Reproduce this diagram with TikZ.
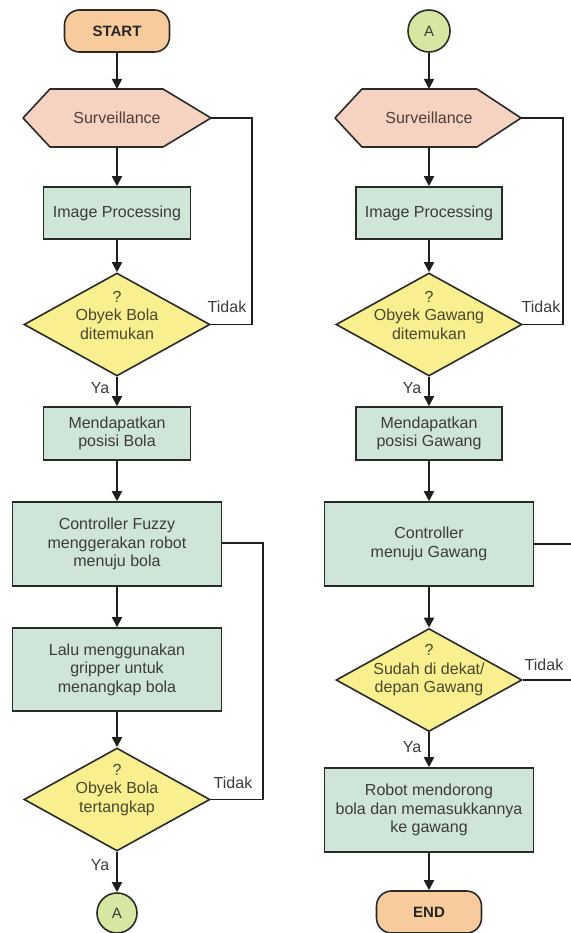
\documentclass[tikz,border=0pt]{standalone}
\usepackage{fontspec}
\setmainfont{Liberation Sans}
\usetikzlibrary{arrows.meta,shapes.geometric}
\definecolor{termfill}{HTML}{F7CB9C}
\definecolor{hexfill}{HTML}{F6D3C1}
\definecolor{boxfill}{HTML}{CFE5D8}
\definecolor{diafill}{HTML}{F8F08E}
\definecolor{circfill}{HTML}{D6E7A2}
\definecolor{bordercol}{HTML}{2A2A2A}
\definecolor{txt}{HTML}{3C3C3C}
\definecolor{hextxt}{HTML}{4E3C36}
\definecolor{diatxt}{HTML}{4A4630}
\begin{document}
\begin{tikzpicture}[x=1pt,y=-1pt,
  base/.style={draw=bordercol, line width=1.6pt, align=center, inner sep=0pt,
    font=\fontsize{16}{18.5}\selectfont, text=txt},
  terminal/.style={base, fill=termfill, rounded corners=15pt, minimum width=105pt, minimum height=42pt,
    font=\fontsize{15}{18}\selectfont\bfseries, text=black!85},
  procbox/.style={base, fill=boxfill, rectangle},
  dia/.style={draw=bordercol, line width=1.6pt, fill=diafill, diamond, inner sep=0pt,
    minimum width=186pt, minimum height=103pt},
  diatext/.style={align=center, inner sep=0pt, font=\fontsize{16}{18.5}\selectfont, text=diatxt},
  hexshape/.style={draw=bordercol, line width=1.6pt, fill=hexfill, line join=round},
  hextext/.style={inner sep=0pt, font=\fontsize{16}{18.5}\selectfont, text=hextxt},
  conn/.style={draw=black!88, line width=1.8pt, -{Triangle[length=10pt,width=10pt]}},
  loopline/.style={draw=black!88, line width=1.5pt},
  lbl/.style={inner sep=0pt, font=\fontsize{16}{18.5}\selectfont, text=txt},
  circ/.style={base, circle, fill=circfill, font=\fontsize{15}{18}\selectfont}
]
\useasboundingbox (0,0) rectangle (570,933);

% ---------------- Left column ----------------
\node[terminal] (start) at (117,31) {START};

\coordinate (h1w) at (23,118);
\coordinate (h1e) at (211,118);
\coordinate (h1n) at (117,89);
\coordinate (h1s) at (117,147);
\filldraw[hexshape] (h1w) -- (50,89) -- (163,89) -- (h1e) -- (163,147) -- (50,147) -- cycle;
\node[hextext] (h1) at (117,118) {Surveillance};

\node[procbox, minimum width=147pt, minimum height=52pt] (ip1) at (117,213) {Image Processing};

\node[dia] (d1) at (117,324.5) {};
\node[diatext] (d1t) at (117,315) {?\\Obyek Bola\\ditemukan};

\node[procbox, minimum width=147pt, minimum height=53pt] (m1) at (117,433.5) {Mendapatkan\\posisi Bola};

\node[procbox, minimum width=209pt, minimum height=84pt] (cf) at (117,544) {Controller Fuzzy\\menggerakan robot\\menuju bola};

\node[procbox, minimum width=209pt, minimum height=83pt] (lalu) at (117,669.5) {Lalu menggunakan\\gripper untuk\\menangkap bola};

\node[dia] (d3) at (117,799.5) {};
\node[diatext] (d3t) at (117,790) {?\\Obyek Bola\\tertangkap};

\node[circ, minimum size=40pt] (a2) at (117,913) {A};

% connectors left
\draw[conn] (start.south) -- (h1n);
\draw[conn] (h1s) -- (ip1.north);
\draw[conn] (ip1.south) -- (d1.north);
\draw[conn] (d1.south) -- (m1.north);
\draw[conn] (m1.south) -- (cf.north);
\draw[conn] (cf.south) -- (lalu.north);
\draw[conn] (lalu.south) -- (d3.north);
\draw[conn] (d3.south) -- (a2.north);

\coordinate (l1a) at (252,118);
\coordinate (l1b) at (252,324.5);
\draw[loopline] (h1e) -- (l1a) -- (l1b) -- (d1.east);
\coordinate (l3a) at (263,543);
\coordinate (l3b) at (263,799.5);
\draw[loopline] (cf.east |- l3a) -- (l3a) -- (l3b) -- (d3.east);

\node[lbl] (t1) at (227,307) {Tidak};
\node[lbl] (t3) at (233,783) {Tidak};
\node[lbl] (y1) at (100,388) {Ya};
\node[lbl] (y3) at (100,865) {Ya};

% ---------------- Right column ----------------
\node[circ, minimum size=42pt] (a1) at (429,31) {A};

\coordinate (h2w) at (335,118);
\coordinate (h2e) at (521,118);
\coordinate (h2n) at (429,89);
\coordinate (h2s) at (429,147);
\filldraw[hexshape] (h2w) -- (362,89) -- (477,89) -- (h2e) -- (477,147) -- (362,147) -- cycle;
\node[hextext] (h2) at (429,118) {Surveillance};

\node[procbox, minimum width=146pt, minimum height=52pt] (ip2) at (429,213) {Image Processing};

\node[dia] (d2) at (429,324.5) {};
\node[diatext] (d2t) at (429,315) {?\\Obyek Gawang\\ditemukan};

\node[procbox, minimum width=146pt, minimum height=53pt] (m2) at (429,433.5) {Mendapatkan\\posisi Gawang};

\node[procbox, minimum width=209pt, minimum height=84pt] (cg) at (429,544) {Controller\\menuju Gawang};

\node[dia] (d4) at (429,680) {};
\node[diatext] (d4t) at (429,670.5) {?\\Sudah di dekat/\\depan Gawang};

\node[procbox, minimum width=209pt, minimum height=84pt] (robot) at (429,810) {Robot mendorong\\bola dan memasukkannya\\ke gawang};

\node[terminal] (end) at (429,912) {END};

% connectors right
\draw[conn] (a1.south) -- (h2n);
\draw[conn] (h2s) -- (ip2.north);
\draw[conn] (ip2.south) -- (d2.north);
\draw[conn] (d2.south) -- (m2.north);
\draw[conn] (m2.south) -- (cg.north);
\draw[conn] (cg.south) -- (d4.north);
\draw[conn] (d4.south) -- (robot.north);
\draw[conn] (robot.south) -- (end.north);

\coordinate (l2a) at (563,118);
\coordinate (l2b) at (563,324.5);
\draw[loopline] (h2e) -- (l2a) -- (l2b) -- (d2.east);
\coordinate (l4a) at (572,544);
\coordinate (l4b) at (572,680);
\draw[loopline] (cg.east) -- (l4a);
\draw[loopline] (d4.east) -- (l4b);

\node[lbl] (t2) at (541,307) {Tidak};
\node[lbl] (t4) at (544,665) {Tidak};
\node[lbl] (y2) at (412,388) {Ya};
\node[lbl] (y4) at (412,747) {Ya};
\end{tikzpicture}
\end{document}
